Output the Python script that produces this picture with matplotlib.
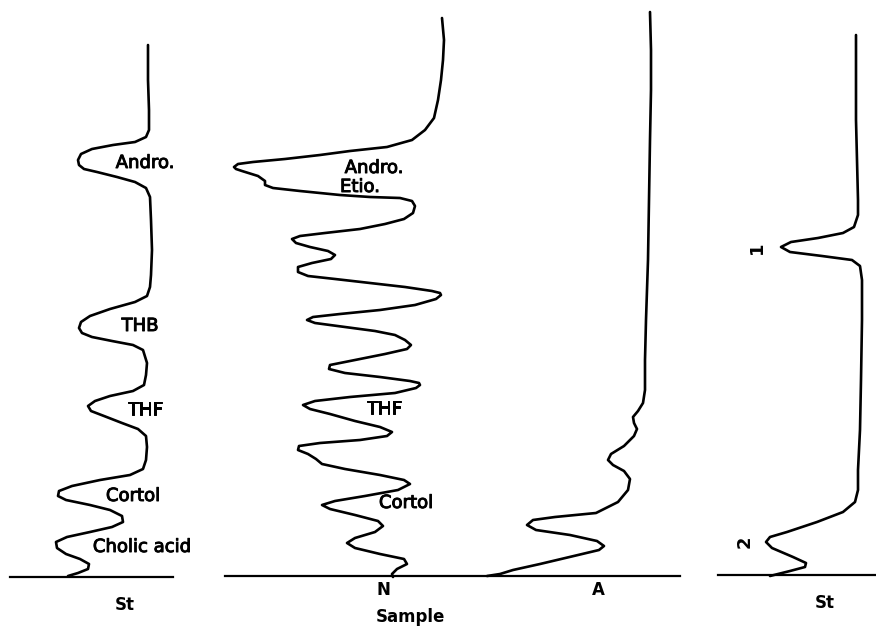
import matplotlib
matplotlib.use("Agg")
import matplotlib.pyplot as plt
import matplotlib.patheffects as pe

# chromatogram traces: response (x) against migration (y)
st1_x = [148, 148, 149, 149, 146, 135, 113, 92, 81, 78, 79, 84, 97, 117, 135, 146, 150, 151, 152, 151,
         150, 147, 135, 110, 90, 81, 79, 82, 92, 112, 133, 143, 147, 146, 144, 133, 110, 95, 88, 91,
         104, 122, 138, 146, 147, 146, 143, 130, 100, 72, 59, 58, 66, 90, 110, 122, 123, 112, 90, 67,
         56, 57, 66, 80, 89, 88, 78, 68]
st1_y = [45, 80, 110, 130, 137, 142, 145, 149, 154, 160, 165, 169, 172, 177, 182, 188, 197, 220, 250, 275,
         287, 296, 302, 309, 316, 322, 328, 333, 337, 341, 345, 350, 363, 375, 385, 391, 396, 401, 406, 411,
         416, 423, 429, 436, 447, 460, 469, 475, 480, 486, 491, 496, 500, 505, 510, 516, 522, 527, 532, 537,
         542, 548, 554, 559, 564, 569, 573, 576]

n_x = [442, 444, 443, 441, 438, 434, 425, 412, 387, 350, 320, 285, 253, 238, 234, 236, 242, 258, 265, 265, 273,
       300, 340, 370, 400, 412, 415, 413, 404, 385, 360, 325, 300, 292, 296, 310, 328, 335, 331, 312, 298,
       298, 308, 335, 370, 405, 432, 440, 441, 436, 415, 380, 340, 313, 307, 315, 345, 375, 395, 405, 411, 407,
       385, 350, 330, 329, 345, 380, 410, 419, 420, 416, 395, 350, 315, 303, 310, 330, 355, 380, 392, 387, 360,
       320, 299, 298, 308, 316, 322, 345, 380, 404, 410, 398, 365, 335, 322, 330, 355, 378, 383, 375, 355,
       347, 355, 380, 404, 407, 397, 392, 393]
n_y = [18, 40, 60, 80, 100, 118, 130, 140, 147, 151, 155, 159, 162, 164, 167, 169, 171, 176, 181, 185, 188,
       191, 195, 197, 198, 201, 206, 213, 219, 224, 229, 233, 236, 239, 243, 247, 251, 255, 259, 263, 267,
       272, 276, 279, 283, 287, 291, 293, 295, 299, 305, 310, 314, 317, 320, 323, 327, 331, 335, 340, 345, 349,
       354, 361, 365, 369, 373, 377, 381, 383, 385, 388, 393, 397, 401, 405, 409, 414, 421, 427, 432, 436, 440,
       443, 446, 450, 454, 459, 464, 469, 475, 480, 484, 490, 496, 501, 505, 509, 515, 521, 526, 532, 538,
       543, 548, 554, 559, 564, 569, 574, 577]

a_x = [650, 651, 651, 650, 649, 648, 646, 645, 645, 643, 638, 633, 634, 637, 634, 624, 611, 608, 613, 624,
       630, 628, 618, 596, 555, 533, 527, 536, 570, 597, 604, 599, 578, 540, 513, 500, 487]
a_y = [12, 50, 90, 140, 200, 260, 320, 360, 390, 403, 411, 417, 423, 429, 436, 446, 454, 460, 465, 471,
       479, 490, 502, 513, 517, 520, 525, 530, 535, 541, 546, 550, 555, 564, 570, 574, 576]

st2_x = [856, 856, 856, 857, 858, 858, 854, 843, 818, 791, 781, 790, 822, 852, 860, 862, 862, 861, 860, 858,
         858, 855, 843, 817, 787, 770, 766, 772, 793, 806, 805, 790, 778, 770]
st2_y = [35, 80, 120, 160, 200, 215, 227, 233, 238, 242, 247, 252, 256, 260, 266, 280, 320, 380, 430, 470,
         490, 502, 512, 522, 532, 537, 542, 548, 557, 563, 567, 571, 574, 576]

# baselines (start, end, level)
bases = [(10, 173, 577), (225, 680, 576), (718, 876, 575)]

peak_labels = [("Andro.", 145, 163), ("THB", 140, 326), ("THF", 145, 410), ("Cortol", 133, 496),
               ("Cholic acid", 142, 547), ("Andro.", 374, 168), ("THF", 384, 409), ("Cortol", 406, 503)]
bottom_labels = [("St", 125, 605), ("N", 383, 590), ("A", 598, 590), ("Sample", 410, 617), ("St", 825, 603)]

fig = plt.figure(figsize=(8.76, 6.33), dpi=100)
ax = fig.add_axes([0, 0, 1, 1])
ax.set_xlim(0, 876)
ax.set_ylim(633, 0)
ax.axis("off")

for xs, ys in [(st1_x, st1_y), (n_x, n_y), (a_x, a_y), (st2_x, st2_y)]:
    ax.plot(xs, ys, color="black", lw=1.9, solid_joinstyle="round", solid_capstyle="round")

for x0, x1, yb in bases:
    ax.plot([x0, x1], [yb, yb], color="black", lw=1.6)

# scanned lettering is a bit heavier than plain regular
thick = [pe.withStroke(linewidth=0.7, foreground="black")]
for txt, x, y in peak_labels:
    ax.text(x, y, txt, ha="center", va="center", fontsize=13, color="black", path_effects=thick)
ax.text(340, 187, "Etio.", ha="left", va="center", fontsize=13, color="black", path_effects=thick)

ax.text(757, 248, "1", ha="center", va="center", fontsize=13, rotation=90, fontweight="bold")
ax.text(745, 542, "2", ha="center", va="center", fontsize=13, rotation=90, fontweight="bold")

for txt, x, y in bottom_labels:
    ax.text(x, y, txt, ha="center", va="center", fontsize=12, fontweight="bold")

fig.savefig("out.png", dpi=100)
